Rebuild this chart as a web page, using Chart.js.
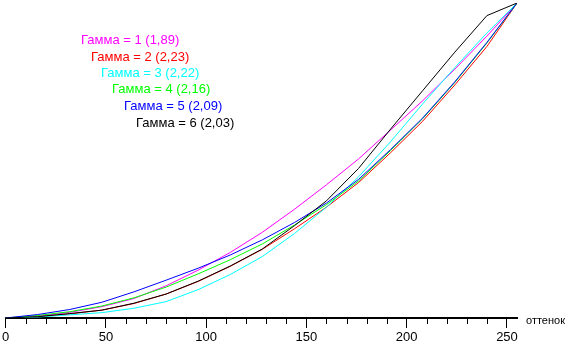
<!DOCTYPE html>
<html>
<head>
<meta charset="utf-8">
<script src="https://cdn.jsdelivr.net/npm/chart.js@4"></script>
<style>
    html, body { margin: 0; padding: 0; background: #fff; }
    #wrap { width: 570px; height: 345px; }
</style>
</head>
<body>
<div id="wrap"><canvas id="gammaChart" width="570" height="345"></canvas></div>
<script>
// Brightness vs hue value for six gamma settings

// Hue values where brightness was measured
const hues = [0, 16, 32, 48, 64, 80, 96, 112, 128, 144, 160, 176, 192, 208, 224, 240, 255];

// Normalised brightness per gamma setting
const gamma1 = [0, 0.006, 0.018, 0.036, 0.062, 0.102, 0.152, 0.208, 0.272, 0.345, 0.423, 0.505, 0.597, 0.690, 0.790, 0.895, 1];
const gamma2 = [0, 0.004, 0.013, 0.025, 0.046, 0.076, 0.116, 0.164, 0.218, 0.283, 0.352, 0.430, 0.525, 0.625, 0.740, 0.862, 1];
const gamma3 = [0, 0.003, 0.010, 0.017, 0.031, 0.052, 0.090, 0.138, 0.195, 0.268, 0.352, 0.448, 0.560, 0.680, 0.795, 0.905, 1];
const gamma4 = [0, 0.008, 0.020, 0.038, 0.064, 0.098, 0.140, 0.185, 0.235, 0.295, 0.360, 0.435, 0.532, 0.633, 0.748, 0.873, 1];
const gamma5 = [0, 0.011, 0.027, 0.050, 0.083, 0.120, 0.158, 0.200, 0.248, 0.303, 0.365, 0.440, 0.535, 0.635, 0.750, 0.875, 1];
const gamma6 = [0, 0.004, 0.014, 0.025, 0.047, 0.076, 0.117, 0.165, 0.219, 0.293, 0.372, 0.475, 0.600, 0.722, 0.844, 0.960, 1];

const seriesLabels = ['Гамма = 1 (1,89)', 'Гамма = 2 (2,23)', 'Гамма = 3 (2,22)',
                      'Гамма = 4 (2,16)', 'Гамма = 5 (2,09)', 'Гамма = 6 (2,03)'];
const xTicks = [0, 50, 100, 150, 200, 250];
const axisTitle = 'оттенок';

const colors = ['#ff00ff', '#ff0000', '#00ffff', '#00ff00', '#0000ff', '#000000'];
const fontFamily = '"Liberation Sans", Arial, sans-serif';

// Draw order: black on top, magenta at the bottom
const drawOrder = [5, 4, 3, 2, 1, 0];

// Minor ticks every 10, axis title, and the stepped legend text
const extras = {
    id: 'extras',
    afterDraw(chart) {
        const ctx = chart.ctx;
        const x = chart.scales.x;
        const base = chart.chartArea.bottom;

        ctx.save();
        ctx.strokeStyle = '#000';
        ctx.lineWidth = 1;
        for (let v = 10; v <= 255; v += 10) {
            if (v % 50 === 0) continue;
            const px = Math.round(x.getPixelForValue(v)) + 0.5;
            ctx.beginPath();
            ctx.moveTo(px, base);
            ctx.lineTo(px, base + 6);
            ctx.stroke();
        }

        ctx.font = '11px ' + fontFamily;
        ctx.fillStyle = '#000';
        ctx.textBaseline = 'middle';
        ctx.textAlign = 'left';
        ctx.fillText(axisTitle, chart.chartArea.right + 9, base + 3);

        ctx.font = '13px ' + fontFamily;
        const legendX = [81, 91, 101, 112, 124, 136];
        const legendY = [40, 57, 73, 89, 106, 123];
        seriesLabels.forEach(function(label, i) {
            ctx.fillStyle = colors[i];
            ctx.fillText(label, legendX[i], legendY[i]);
        });
        ctx.restore();
    }
};

document.addEventListener('DOMContentLoaded', function() {
    const series = [gamma1, gamma2, gamma3, gamma4, gamma5, gamma6];

    new Chart(document.getElementById('gammaChart'), {
        type: 'line',
        data: {
            datasets: series.map(function(values, i) {
                return {
                    label: seriesLabels[i],
                    data: hues.map(function(h, j) { return { x: h, y: values[j] }; }),
                    borderColor: colors[i],
                    borderWidth: 1,
                    pointRadius: 0,
                    tension: 0,
                    fill: false,
                    order: drawOrder[i]
                };
            })
        },
        options: {
            responsive: false,
            animation: false,
            layout: {
                padding: { left: 4, right: 53, top: 3, bottom: 0 }
            },
            scales: {
                x: {
                    type: 'linear',
                    min: 0,
                    max: 255,
                    afterBuildTicks: function(scale) {
                        scale.ticks = xTicks.map(function(v) { return { value: v }; });
                    },
                    afterFit: function(scale) {
                        scale.height = 27;
                    },
                    border: { display: true, color: '#000', width: 2 },
                    grid: {
                        drawOnChartArea: false,
                        drawTicks: true,
                        tickLength: 10,
                        color: '#000'
                    },
                    ticks: {
                        padding: 2,
                        maxRotation: 0,
                        color: '#000',
                        font: { family: fontFamily, size: 13 }
                    }
                },
                y: {
                    display: false,
                    min: 0,
                    max: 1
                }
            },
            plugins: {
                legend: { display: false },
                tooltip: { enabled: false }
            }
        },
        plugins: [extras]
    });
});
</script>
</body>
</html>
